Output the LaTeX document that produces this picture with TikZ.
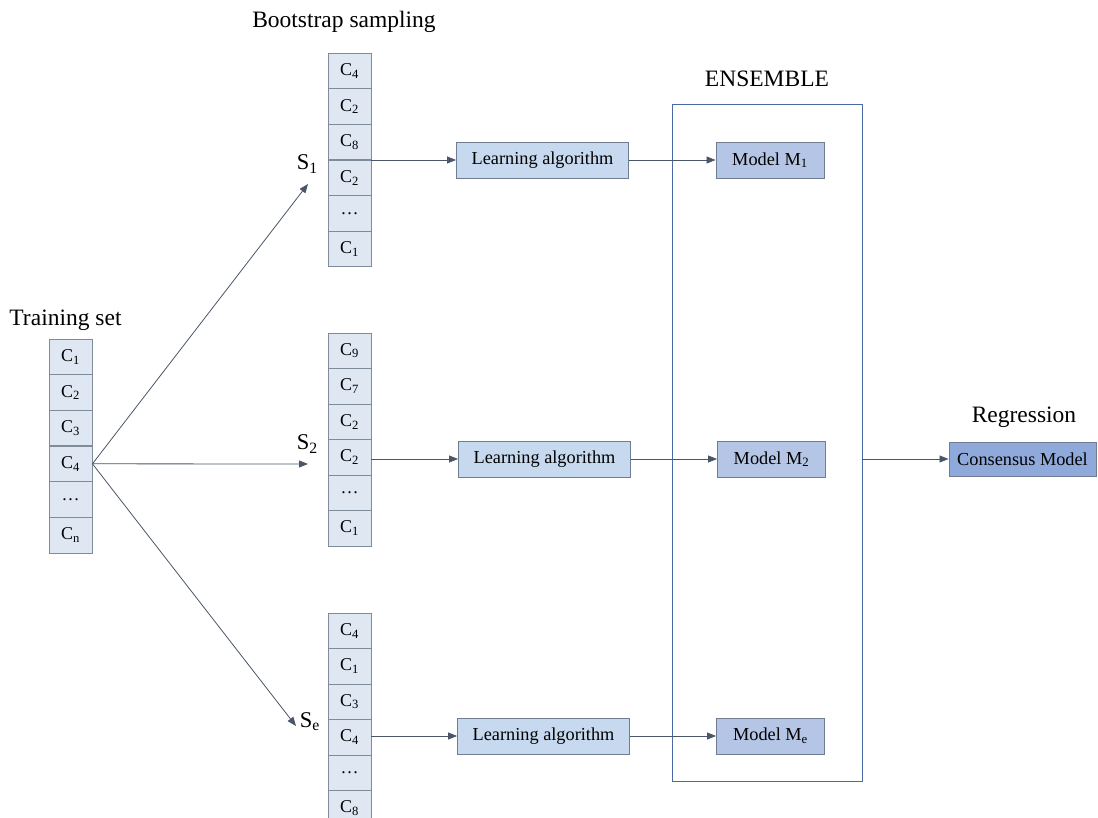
\documentclass[tikz,border=0pt]{standalone}
\usepackage{fontspec}
\setmainfont{Liberation Serif}
\usetikzlibrary{arrows.meta}
\definecolor{cellfill}{HTML}{DFE7F2}
\definecolor{cellline}{HTML}{7F8C9C}
\definecolor{lafill}{HTML}{C6D9EE}
\definecolor{modfill}{HTML}{B5C5E5}
\definecolor{consfill}{HTML}{8FA9DA}
\definecolor{boxline}{HTML}{707D90}
\definecolor{ensline}{HTML}{4A6AA5}
\definecolor{arrcol}{HTML}{4A5568}
\tikzset{
  cell/.style={draw=cellline, fill=cellfill, line width=0.9pt, minimum width=43, minimum height=35.6, inner sep=0pt, font=\fontsize{18}{21}\selectfont},
  labox/.style={draw=boxline, fill=lafill, line width=0.9pt, minimum width=172, minimum height=36, inner sep=0pt, font=\fontsize{18.3}{22}\selectfont},
  modbox/.style={draw=boxline, fill=modfill, line width=0.9pt, minimum width=108, minimum height=36, inner sep=0pt, font=\fontsize{18.3}{22}\selectfont},
  consbox/.style={draw=boxline, fill=consfill, line width=0.9pt, minimum width=147, minimum height=34, inner sep=0pt, font=\fontsize{18.3}{22}\selectfont},
  ensbox/.style={draw=ensline, line width=0.9pt, minimum width=190, minimum height=677, inner sep=0pt},
  lbl/.style={inner sep=0pt, font=\fontsize{23.5}{28}\selectfont},
  slbl/.style={inner sep=0pt, anchor=east, font=\fontsize{22.5}{27}\selectfont},
  arr/.style={draw=arrcol, line width=0.8pt, -{Triangle[length=9pt,width=7pt]}}
}
\begin{document}
\begin{tikzpicture}[x=1pt,y=-1pt]
\useasboundingbox (0,0) rectangle (1098,818);
\clip (0,0) rectangle (1098,818);
% labels
\node[lbl] (tslbl) at (65.5,320) {Training set};
\node[lbl] (bslbl) at (344,22) {Bootstrap sampling};
\node[lbl] (enslbl) at (767,79) {ENSEMBLE};
\node[lbl] (reglbl) at (1024,417) {Regression};
% ensemble
\node[ensbox] (ens) at (767,442.5) {};
% training set column
\foreach \lab [count=\i] in {C\textsubscript{1},C\textsubscript{2},C\textsubscript{3},C\textsubscript{4},\dots,C\textsubscript{n}}
  \node[cell] (ts-\i) at (70.5,{339+17.8+35.67*(\i-1)}) {\lab};
% sample columns
\foreach \lab [count=\i] in {C\textsubscript{4},C\textsubscript{2},C\textsubscript{8},C\textsubscript{2},\dots,C\textsubscript{1}}
  \node[cell] (sa-\i) at (349.5,{53+17.8+35.67*(\i-1)}) {\lab};
\foreach \lab [count=\i] in {C\textsubscript{9},C\textsubscript{7},C\textsubscript{2},C\textsubscript{2},\dots,C\textsubscript{1}}
  \node[cell] (sb-\i) at (349.5,{333+17.8+35.5*(\i-1)}) {\lab};
\foreach \lab [count=\i] in {C\textsubscript{4},C\textsubscript{1},C\textsubscript{3},C\textsubscript{4},\dots,C\textsubscript{8}}
  \node[cell] (sc-\i) at (349.5,{613+17.8+35.5*(\i-1)}) {\lab};
% S labels
\node[slbl] (s1) at (318,164) {S\textsubscript{1}};
\node[slbl] (s2) at (318,444) {S\textsubscript{2}};
\node[slbl] (se) at (320,722) {S\textsubscript{e}};
% learning algorithm boxes
\node[labox] (la1) at (542.5,160) {Learning algorithm};
\node[labox] (la2) at (544.5,459) {Learning algorithm};
\node[labox] (la3) at (543.5,736) {Learning algorithm};
% models
\node[modbox] (m1) at (770,160) {Model M\textsubscript{1}};
\node[modbox] (m2) at (771.5,459) {Model M\textsubscript{2}};
\node[modbox] (me) at (770.5,736) {Model M\textsubscript{e}};
% consensus
\node[consbox] (cons) at (1022.5,459) {Consensus Model};
% arrow end points
\coordinate (t1) at (308,184);
\coordinate (t2) at (308,464);
\coordinate (t3) at (296,726);
\draw[arr] (ts-4.east) -- (t1);
\draw[arr] (ts-4.east) -- (t2);
\draw[arr] (ts-4.east) -- (t3);
\draw[arr] (la1.west -| sa-3.east) -- (la1.west);
\draw[arr] (la2.west -| sb-4.east) -- (la2.west);
\draw[arr] (la3.west -| sc-4.east) -- (la3.west);
\draw[arr] (la1.east) -- (m1.west);
\draw[arr] (la2.east) -- (m2.west);
\draw[arr] (la3.east) -- (me.west);
\draw[arr] (cons.west -| ens.east) -- (cons.west);
\end{tikzpicture}
\end{document}
